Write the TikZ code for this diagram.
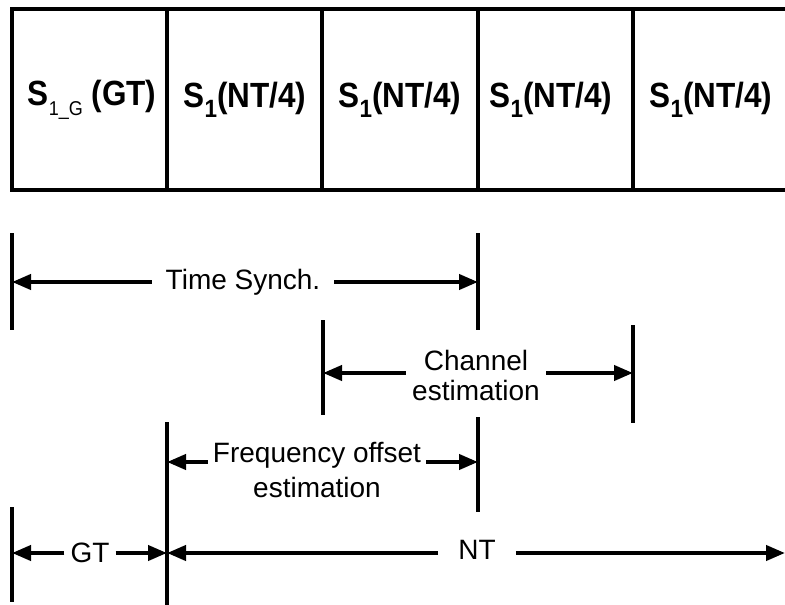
\documentclass[tikz,border=0pt]{standalone}
\usepackage{fontspec}
\setmainfont{Liberation Sans}
\usetikzlibrary{arrows.meta}
\newcommand\mysubone{\raisebox{-10pt}{\fontsize{25}{25}\selectfont 1}}
\newcommand\mysubg{\raisebox{-10pt}{\mdseries\fontsize{20}{20}\selectfont 1\_G}}
\tikzset{
  frame/.style={line width=4pt},
  cell/.style={inner sep=0pt, font=\bfseries\fontsize{35}{38}\selectfont},
  bar/.style={line width=3.5pt},
  dim/.style={line width=4pt, -{Triangle[length=19pt,width=15pt]}},
  lbl/.style={inner ysep=0pt, align=center, font=\fontsize{28}{30}\selectfont}
}
\begin{document}
\begin{tikzpicture}[x=1pt,y=-1pt]
\useasboundingbox (0,0) rectangle (785,605);
% frame of the slots
\draw[frame] (787,9) -- (12,9) -- (12,190) -- (787,190);
\foreach \x in {167,322,478,633} \draw[frame] (\x,9) -- (\x,190);
% slot labels
\node[cell] (c1) at (92,100) {\scalebox{0.9}[1]{S\mysubg\ (GT)}};
\node[cell] (c2) at (245,100) {\scalebox{0.9}[1]{S\mysubone(NT/4)}};
\node[cell] (c3) at (400,100) {\scalebox{0.9}[1]{S\mysubone(NT/4)}};
\node[cell] (c4) at (551,100) {\scalebox{0.9}[1]{S\mysubone(NT/4)}};
\node[cell] (c5) at (711,100) {\scalebox{0.9}[1]{S\mysubone(NT/4)}};
% bars
\coordinate (b1t) at (12,233);  \coordinate (b1b) at (12,330);
\coordinate (b2t) at (478,233); \coordinate (b2b) at (478,330);
\coordinate (b3t) at (323,320); \coordinate (b3b) at (323,415);
\coordinate (b4t) at (633,325); \coordinate (b4b) at (633,423);
\coordinate (b5t) at (167,422); \coordinate (b5b) at (167,607);
\coordinate (b6t) at (478,417); \coordinate (b6b) at (478,512);
\coordinate (b7t) at (12,507);  \coordinate (b7b) at (12,602);
\foreach \b in {b1,b2,b3,b4,b5,b6,b7} \draw[bar] (\b t) -- (\b b);
% Time synch
\coordinate (tsL) at (12,282); \coordinate (tsR) at (478,282);
\node[lbl, inner xsep=14pt] (ts) at (243,282) {Time Synch.};
\draw[dim] (ts.west) -- (tsL);
\draw[dim] (ts.east) -- (tsR);
% Channel estimation
\coordinate (chL) at (323,373); \coordinate (chR) at (633,373);
\node[lbl, inner xsep=6pt] (ch) at (476,375) {Channel\\estimation};
\draw[dim] (ch.west |- chL) -- (chL);
\draw[dim] (ch.east |- chR) -- (chR);
% Frequency offset estimation
\coordinate (foL) at (167,462); \coordinate (foR) at (478,462);
\node[lbl, inner xsep=5pt, font=\fontsize{28}{35}\selectfont] (fo) at (317,470) {Frequency offset\\estimation};
\draw[dim] (fo.west |- foL) -- (foL);
\draw[dim] (fo.east |- foR) -- (foR);
% GT
\coordinate (gtL) at (12,553); \coordinate (gtR) at (167,553);
\node[lbl, inner xsep=6pt] (gt) at (90,553) {GT};
\draw[dim] (gt.west) -- (gtL);
\draw[dim] (gt.east) -- (gtR);
% NT
\coordinate (ntL) at (167,553); \coordinate (ntR) at (785,553);
\node[lbl, inner xsep=20pt] (nt) at (477,550) {NT};
\draw[dim] (nt.west |- ntL) -- (ntL);
\draw[dim] (nt.east |- ntR) -- (ntR);
\end{tikzpicture}
\end{document}
